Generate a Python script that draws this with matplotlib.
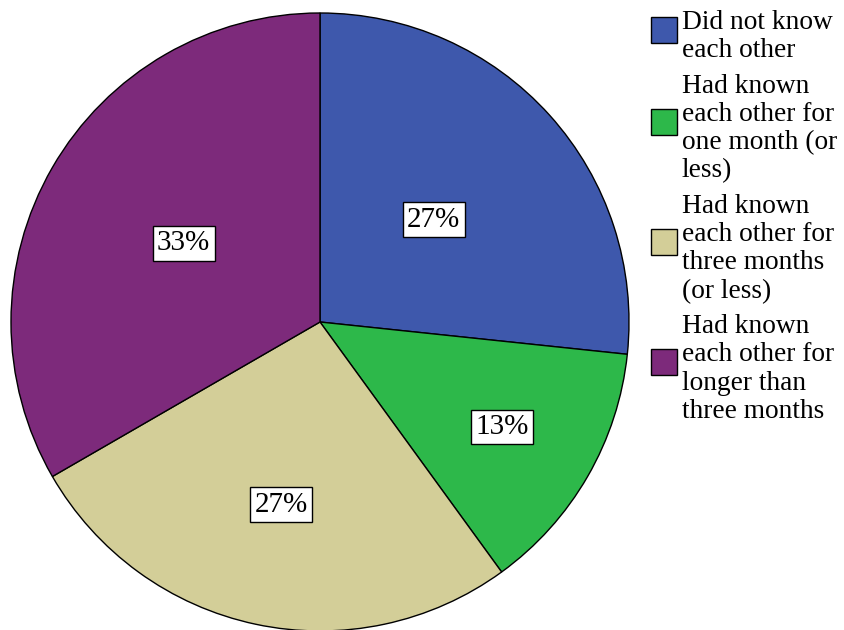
import numpy as np
import matplotlib
matplotlib.use("Agg")
import matplotlib.pyplot as plt
from matplotlib.patches import Rectangle

plt.rcParams['font.family'] = ['Liberation Serif', 'DejaVu Serif']

# respondents per group
groups = [
    ["Did not know", "each other"],
    ["Had known", "each other for", "one month (or", "less)"],
    ["Had known", "each other for", "three months", "(or less)"],
    ["Had known", "each other for", "longer than", "three months"],
]
counts = [8, 4, 8, 10]
colors = ["#3e58ac", "#2db84a", "#d3ce98", "#7d2a7b"]
label_r = [0.495, 0.68, 0.605, 0.51]

W, H = 845, 630
fig = plt.figure(figsize=(W / 100, H / 100), dpi=100)

# pie centred at (320, 322) px with radius 309 px
cx, cy, R = 320, 322, 309
ax = fig.add_axes([(cx - R) / W, (H - cy - R) / H, 2 * R / W, 2 * R / H])
wedges, _ = ax.pie(counts, colors=colors, startangle=90, counterclock=False,
                   wedgeprops=dict(edgecolor='black', linewidth=1.0))
ax.set_xlim(-1, 1)
ax.set_ylim(-1, 1)
ax.set_aspect('equal')
ax.axis('off')

total = sum(counts)
for w, n, r in zip(wedges, counts, label_r):
    mid = np.deg2rad((w.theta1 + w.theta2) / 2)
    ax.text(r * np.cos(mid), r * np.sin(mid), f"{round(100 * n / total)}%",
            ha='center', va='center', fontsize=21,
            bbox=dict(boxstyle='square,pad=0.15', fc='white', ec='black', lw=1.0))

# legend drawn by hand, one text line at a time
pitch, gap = 28.3, 7.0
y = 29.0
for lines, c in zip(groups, colors):
    first = y
    for ln in lines:
        fig.text(682 / W, 1 - y / H, ln, fontsize=19.7, va='baseline', ha='left')
        y += pitch
    last = y - pitch
    y += gap
    sq_c = (first + last) / 2 - 13.5
    fig.patches.append(Rectangle((651 / W, 1 - (sq_c + 13) / H), 26 / W, 26 / H,
                                 transform=fig.transFigure, fc=c, ec='black', lw=1.0))

fig.savefig("out.png", dpi=100)
